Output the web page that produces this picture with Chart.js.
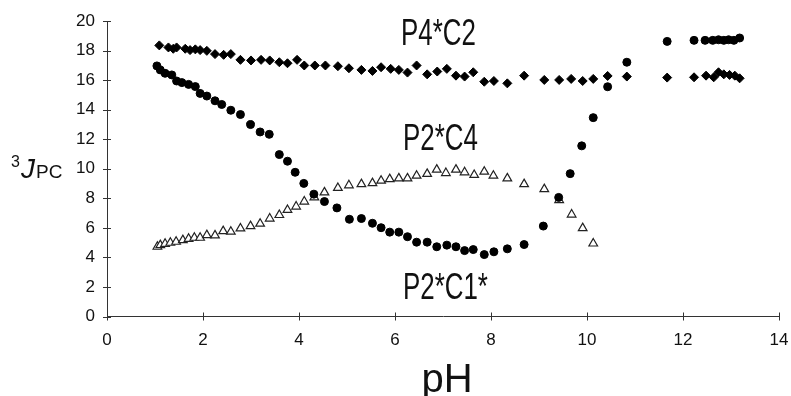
<!DOCTYPE html>
<html>
<head>
<meta charset="utf-8">
<script src="https://cdn.jsdelivr.net/npm/chart.js@4.4.1/dist/chart.umd.min.js"></script>
<style>
  body { margin: 0; background: #fff; }
  #chart { display: block; }
</style>
</head>
<body>
<canvas id="chart" width="791" height="396"></canvas>
<script>
// P4*C2 (diamonds)
const phC2 = [1.09, 1.28, 1.38, 1.45, 1.63, 1.73, 1.84, 1.94, 2.08, 2.25, 2.43, 2.58, 2.78, 3.00, 3.21, 3.39, 3.59, 3.76, 3.96,
    4.11, 4.33, 4.55, 4.81, 5.04, 5.30, 5.53, 5.71, 5.91, 6.08, 6.26, 6.45, 6.67, 6.88, 7.08, 7.27, 7.45, 7.63, 7.86, 8.06,
    8.34, 8.69, 9.11, 9.42, 9.67, 9.91, 10.13, 10.43, 10.83, 11.67, 12.23, 12.48, 12.64, 12.74, 12.85, 12.97, 13.08, 13.18];
const jC2 = [18.35, 18.21, 18.12, 18.21, 18.12, 18.03, 18.08, 18.03, 17.98, 17.76, 17.71, 17.76, 17.37, 17.33, 17.37, 17.33, 17.21, 17.14, 17.37,
    16.99, 16.99, 16.99, 16.94, 16.80, 16.69, 16.62, 16.87, 16.76, 16.69, 16.51, 16.99, 16.39, 16.58, 16.76, 16.30, 16.24, 16.53, 15.89, 15.94,
    15.78, 16.30, 16.01, 16.01, 16.08, 15.94, 16.08, 16.28, 16.24, 16.17, 16.19, 16.30, 16.19, 16.53, 16.39, 16.35, 16.30, 16.12];

// P2*C1* (filled circles)
const phC1 = [1.04, 1.11, 1.21, 1.35, 1.45, 1.56, 1.70, 1.84, 1.94, 2.08, 2.25, 2.39, 2.58, 2.78, 2.99, 3.19, 3.38, 3.59, 3.76, 3.92,
    4.10, 4.31, 4.53, 4.79, 5.05, 5.30, 5.53, 5.71, 5.89, 6.08, 6.26, 6.45, 6.67, 6.87, 7.08, 7.27, 7.45, 7.63, 7.86, 8.06,
    8.34, 8.69, 9.09, 9.41, 9.65, 9.89, 10.13, 10.43, 10.83, 11.67, 12.23, 12.46, 12.62, 12.74, 12.85, 12.95, 13.06, 13.18];
const jC1 = [16.96, 16.69, 16.46, 16.35, 15.94, 15.83, 15.71, 15.56, 15.10, 14.92, 14.60, 14.35, 13.96, 13.67, 12.99, 12.49, 12.33, 10.96, 10.51, 9.76,
    9.01, 8.28, 7.78, 7.35, 6.58, 6.63, 6.31, 6.01, 5.71, 5.71, 5.40, 5.03, 5.03, 4.72, 4.83, 4.72, 4.46, 4.53, 4.19, 4.38,
    4.58, 4.87, 6.12, 8.06, 9.67, 11.55, 13.46, 15.55, 17.21, 18.62, 18.69, 18.69, 18.69, 18.73, 18.69, 18.73, 18.69, 18.85];

// P2*C4 (open triangles)
const phC4 = [1.05, 1.11, 1.21, 1.32, 1.44, 1.58, 1.70, 1.82, 1.94, 2.08, 2.25, 2.42, 2.58, 2.78, 2.99, 3.19, 3.39, 3.59, 3.76, 3.94,
    4.11, 4.32, 4.53, 4.81, 5.04, 5.30, 5.53, 5.71, 5.89, 6.08, 6.26, 6.45, 6.67, 6.87, 7.06, 7.27, 7.45, 7.65, 7.86, 8.05,
    8.34, 8.69, 9.11, 9.42, 9.68, 9.91, 10.13];
const jC4 = [4.72, 4.83, 4.92, 4.99, 5.06, 5.17, 5.26, 5.33, 5.33, 5.51, 5.49, 5.78, 5.74, 5.96, 6.12, 6.28, 6.63, 6.87, 7.21, 7.44,
    7.78, 8.06, 8.40, 8.70, 8.88, 8.96, 9.03, 9.19, 9.30, 9.35, 9.35, 9.53, 9.65, 9.94, 9.71, 9.94, 9.76, 9.58, 9.80, 9.53,
    9.35, 8.96, 8.62, 7.88, 6.90, 5.98, 4.94];

const seriesLabels = ['P4*C2', 'P2*C1*', 'P2*C4'];
const xTitle = 'pH';

const toPoints = (xs, ys) => xs.map((x, i) => ({ x: x, y: ys[i] }));
const AXIS = '#333';

// tick marks crossing the axes
const crossTicks = {
    id: 'crossTicks',
    beforeDatasetsDraw(chart) {
        const ctx = chart.ctx;
        const { x, y } = chart.scales;
        ctx.save();
        ctx.strokeStyle = AXIS;
        ctx.lineWidth = 1;
        ctx.beginPath();
        x.ticks.forEach(t => {
            const px = Math.round(x.getPixelForValue(t.value)) + 0.5;
            ctx.moveTo(px, y.bottom - 4);
            ctx.lineTo(px, y.bottom + 4);
        });
        y.ticks.forEach(t => {
            const py = Math.round(y.getPixelForValue(t.value)) + 0.5;
            ctx.moveTo(x.left - 4, py);
            ctx.lineTo(x.left + 4, py);
        });
        ctx.stroke();
        ctx.restore();
    }
};

// series names, axis titles
const labelsPlugin = {
    id: 'labelsPlugin',
    afterDraw(chart) {
        const ctx = chart.ctx;
        const { x, y } = chart.scales;
        ctx.save();
        ctx.fillStyle = '#111';
        ctx.textBaseline = 'alphabetic';

        // narrow series names
        const narrow = (txt, left, base) => {
            ctx.save();
            ctx.translate(left, base);
            ctx.scale(0.7, 1);
            ctx.font = '37px "Liberation Sans", Arial, sans-serif';
            ctx.textAlign = 'left';
            ctx.fillText(txt, 0, 0);
            ctx.restore();
        };
        narrow(seriesLabels[0], 401, 45);
        narrow(seriesLabels[2], 403, 150);
        narrow(seriesLabels[1], 403, 299);

        // x title
        ctx.font = '40px "Liberation Sans", Arial, sans-serif';
        ctx.textAlign = 'center';
        ctx.fillText(xTitle, 447, 392);

        // y title: 3J PC
        ctx.textAlign = 'left';
        ctx.font = '16px "Liberation Sans", Arial, sans-serif';
        ctx.fillText('3', 11, 167);
        ctx.font = 'italic 28px "Liberation Sans", Arial, sans-serif';
        ctx.fillText('J', 21, 178);
        ctx.font = '19px "Liberation Sans", Arial, sans-serif';
        ctx.fillText('PC', 36, 178);
        ctx.restore();
    }
};

const tickFont = { family: '"Liberation Sans", Arial, sans-serif', size: 17 };

new Chart(document.getElementById('chart').getContext('2d'), {
    type: 'scatter',
    data: {
        datasets: [
            {
                label: seriesLabels[0],
                data: toPoints(phC2, jC2),
                pointStyle: 'rectRot',
                pointRadius: 4.5,
                backgroundColor: '#000',
                borderColor: '#000',
                borderWidth: 1
            },
            {
                label: seriesLabels[1],
                data: toPoints(phC1, jC1),
                pointStyle: 'circle',
                pointRadius: 4,
                backgroundColor: '#000',
                borderColor: '#000',
                borderWidth: 1
            },
            {
                label: seriesLabels[2],
                data: toPoints(phC4, jC4),
                pointStyle: 'triangle',
                pointRadius: 5,
                backgroundColor: '#fff',
                borderColor: '#222',
                borderWidth: 1.2
            }
        ]
    },
    options: {
        responsive: false,
        animation: false,
        layout: { padding: { top: 21, right: 12, left: 0, bottom: 0 } },
        plugins: {
            legend: { display: false },
            tooltip: { enabled: false }
        },
        scales: {
            x: {
                type: 'linear',
                min: 0,
                max: 14,
                ticks: { stepSize: 2, padding: 14, color: '#111', font: tickFont },
                grid: { display: false, drawTicks: false },
                border: { color: AXIS, width: 1 },
                afterFit: s => { s.height = 79.5; s.paddingLeft = 0; s.paddingRight = 0; }
            },
            y: {
                min: 0,
                max: 20,
                ticks: { stepSize: 2, padding: 12, color: '#111', font: tickFont },
                grid: { display: false, drawTicks: false },
                border: { color: AXIS, width: 1 },
                afterFit: s => { s.width = 107; s.paddingTop = 0; s.paddingBottom = 0; }
            }
        }
    },
    plugins: [crossTicks, labelsPlugin]
});
</script>
</body>
</html>
